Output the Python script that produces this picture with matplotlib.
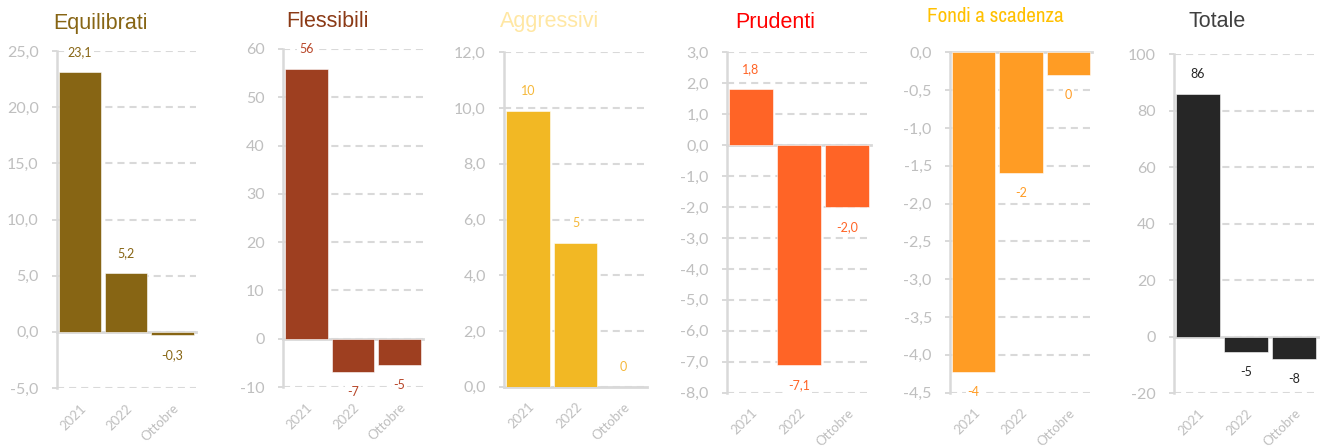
import matplotlib.pyplot as plt
from matplotlib import font_manager

# Categories and series (one per fund family)
periods = ['2021', '2022', 'Ottobre']
equilibrati = [23.1, 5.2, -0.3]
flessibili = [55.9, -6.8, -5.4]
aggressivi = [9.9, 5.15, 0.0]
prudenti = [1.8, -7.1, -2.0]
fondi_scadenza = [-4.23, -1.59, -0.3]
totale = [85.9, -5.3, -8.0]

titles = ['Equilibrati', 'Flessibili', 'Aggressivi', 'Prudenti', 'Fondi a scadenza', 'Totale']

W, H = 1320, 448
fig = plt.figure(figsize=(W / 100, H / 100), dpi=100)

installed = {f.name for f in font_manager.fontManager.ttflist}
num_font = 'Lato' if 'Lato' in installed else 'DejaVu Sans'

# a condensed face for the long title, if one is available
narrow = None
for f in font_manager.fontManager.ttflist:
    name = f.name
    cond = ('Narrow' in name or 'Condensed' in name or
            str(f.stretch) in ('condensed', 'semi-condensed', 'extra-condensed'))
    if cond and f.style == 'normal' and f.weight in (400, 'normal', 'regular') \
            and 'Mono' not in name and 'Serif' not in name:
        if narrow is None or 'Narrow' in name:
            narrow = f
if narrow is not None:
    narrow_props = dict(fontproperties=font_manager.FontProperties(fname=narrow.fname, size=16.5))
else:
    narrow_props = dict(family='Liberation Sans', fontsize=12.5)

GRID = '#D9D9D9'
TICK = '#BFBFBF'

# each panel: values, bar colour, label colour, title colour, y range, step, decimals, pixel box
panels = [
    (equilibrati, '#876514', '#876514', '#876514', (-5, 25), 5, 1, (57, 195.5, 51, 388)),
    (flessibili, '#9E3F20', '#B8472A', '#8B3A16', (-10, 60), 10, 0, (283, 423, 49, 387)),
    (aggressivi, '#F2B824', '#F5B83A', '#FFE7A3', (0, 12), 2, 1, (504, 647, 52.3, 386.7)),
    (prudenti, '#FF6426', '#FF6426', '#FF0000', (-8, 3), 1, 1, (727, 871, 52.3, 392.7)),
    (fondi_scadenza, '#FF9C24', '#FF9C24', '#FFC000', (-4.5, 0), 0.5, 1, (950, 1092, 52.3, 392.7)),
    (totale, '#262626', '#262626', '#404040', (-20, 100), 20, 0, (1174, 1318, 54, 393.3)),
]
label_decimals = [1, 0, 0, 1, 0, 0]
title_pos = [(101, 29.5), (327, 27), (550, 27), (775, 28), (995, 22), (1217, 27)]


def fmt(v, dec):
    if dec == 0:
        s = '%d' % round(v)
        return '0' if s == '-0' else s
    return ('%.1f' % v).replace('.', ',')


for i, (vals, bar_c, lab_c, title_c, (y0, y1), step, dec, box) in enumerate(panels):
    xl, xr, yt, yb = box
    ax = fig.add_axes([xl / W, 1 - yb / H, (xr - xl) / W, (yb - yt) / H])
    x = list(range(len(periods)))
    ax.bar(x, vals, width=0.92, color=bar_c, edgecolor='white', linewidth=0.4, zorder=3)
    ax.set_xlim(-0.5, 2.5)
    ax.set_ylim(y0, y1)

    n = int(round((y1 - y0) / step))
    ticks = [y0 + k * step for k in range(n + 1)]
    ax.set_yticks(ticks)
    ax.set_yticklabels([fmt(t, dec) for t in ticks], fontsize=11.5, color=TICK, family=num_font)
    ax.tick_params(axis='y', length=3.6, width=1.4, color=GRID, pad=9.5)

    ax.set_xticks(x)
    ax.set_xticklabels(periods, rotation=45, ha='right', va='top', rotation_mode='anchor',
                       fontsize=9.5, color=TICK, family=num_font)
    ax.tick_params(axis='x', length=0, pad=10)

    ax.yaxis.grid(True, linestyle=(0, (3.4, 2.4)), color=GRID, linewidth=1.5, zorder=0)
    ax.axhline(0, color=GRID, linewidth=2, zorder=1, clip_on=False)
    ax.set_axisbelow(True)
    for side in ['top', 'right', 'bottom']:
        ax.spines[side].set_visible(False)
    ax.spines['left'].set_color(GRID)
    ax.spines['left'].set_linewidth(1.8)

    # value labels sit a fixed distance beyond each bar end
    for xi, v in zip(x, vals):
        off = 14.4 if v >= 0 else -14.4
        ax.annotate(fmt(v, label_decimals[i]), (xi, v), xytext=(0, off), textcoords='offset points',
                    ha='center', va='center', fontsize=9, color=lab_c, family=num_font,
                    annotation_clip=False, zorder=4,
                    bbox=dict(boxstyle='square,pad=0.15', fc='white', ec='none'))

    tx, ty = title_pos[i]
    if titles[i] == 'Fondi a scadenza':
        fig.text(tx / W, 1 - ty / H, titles[i], ha='center', va='baseline',
                 color=title_c, **narrow_props)
    else:
        fig.text(tx / W, 1 - ty / H, titles[i], ha='center', va='baseline', fontsize=15.5,
                 color=title_c, family='Liberation Sans')

fig.savefig('out.png', dpi=100)
